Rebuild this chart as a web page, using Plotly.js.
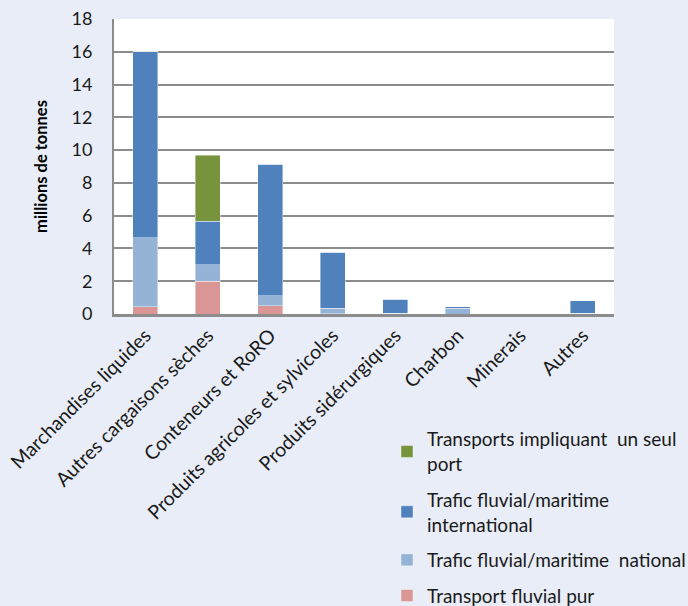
<!DOCTYPE html>
<html>
<head>
<meta charset="utf-8">
<script src="https://cdn.plot.ly/plotly-3.0.1.min.js"></script>
<style>
  html, body { margin: 0; padding: 0; background: #e8edf7; }
  #chart { width: 688px; height: 606px; }
</style>
</head>
<body>
<div id="chart"></div>
<script>
// Cargo categories (x axis)
const categories = [
  'Marchandises liquides',
  'Autres cargaisons sèches',
  'Conteneurs et RoRO',
  'Produits agricoles et sylvicoles',
  'Produits sidérurgiques',
  'Charbon',
  'Minerais',
  'Autres'
];

// Stacked components, millions de tonnes (bottom to top)
const fluvialPur      = [0.45, 2.0, 0.5, 0.02, 0.02, 0.0, 0.0, 0.02];
const trafficNational = [4.2, 1.0, 0.62, 0.32, 0.04, 0.35, 0.0, 0.03];
const trafficIntl     = [11.35, 2.65, 8.03, 3.44, 0.85, 0.08, 0.0, 0.76];
const seulPort        = [0, 4.05, 0, 0, 0, 0, 0, 0];

const seriesNames = [
  'Transport fluvial pur',
  'Trafic fluvial/maritime  national',
  'Trafic fluvial/maritime<br>international',
  'Transports impliquant  un seul<br>port'
];
const seriesColors = ['#d99694', '#95b3d7', '#4f81bd', '#77933c'];
const seriesValues = [fluvialPur, trafficNational, trafficIntl, seulPort];

const yTicks = [0, 2, 4, 6, 8, 10, 12, 14, 16, 18];

const FONT = 'Lato, "Open Sans", sans-serif';
const INK = '#1a1a1a';

// Legend lists the top segment first, so rank runs opposite to stacking order
const traces = seriesValues.map((vals, i) => ({
  type: 'bar',
  name: seriesNames[i],
  x: categories,
  y: vals,
  legendgroup: 'g' + i,
  legendrank: 1000 - i,
  marker: { color: seriesColors[i], line: { color: 'rgba(255,255,255,0.55)', width: 0.75 } },
  hoverinfo: 'x+y+name'
}));

const layout = {
  width: 688,
  height: 606,
  paper_bgcolor: '#e8edf7',
  plot_bgcolor: '#ffffff',
  barmode: 'stack',
  bargap: 0.6,
  margin: { l: 114, r: 74, t: 19, b: 292, autoexpand: false },
  font: { family: FONT, color: INK, size: 16 },
  showlegend: true,
  legend: {
    traceorder: 'grouped',
    orientation: 'v',
    x: 0.546,
    xanchor: 'left',
    y: -0.36,
    yanchor: 'top',
    bgcolor: 'rgba(0,0,0,0)',
    font: { family: FONT, size: 19, color: INK },
    tracegroupgap: 8,
    itemclick: false
  },
  xaxis: {
    type: 'category',
    tickangle: -45,
    tickfont: { family: FONT, size: 19.5, color: INK },
    showline: true,
    linecolor: '#8c8c8c',
    linewidth: 2.5,
    ticks: '',
    showgrid: false,
    fixedrange: true
  },
  yaxis: {
    range: [0, 18],
    tickvals: yTicks,
    ticktext: yTicks.map(String),
    tickfont: { family: FONT, size: 18, color: INK },
    ticks: '',
    ticklabelstandoff: 16,
    showline: true,
    linecolor: '#8c8c8c',
    linewidth: 2,
    showgrid: true,
    gridcolor: '#8c8c8c',
    gridwidth: 2,
    zeroline: false,
    automargin: true,
    title: {
      text: '<b>millions de tonnes</b>',
      font: { family: FONT, size: 16.5, color: '#000000' },
      standoff: 20
    },
    fixedrange: true
  }
};

Plotly.newPlot('chart', traces, layout, { displayModeBar: false, staticPlot: true });
</script>
</body>
</html>
